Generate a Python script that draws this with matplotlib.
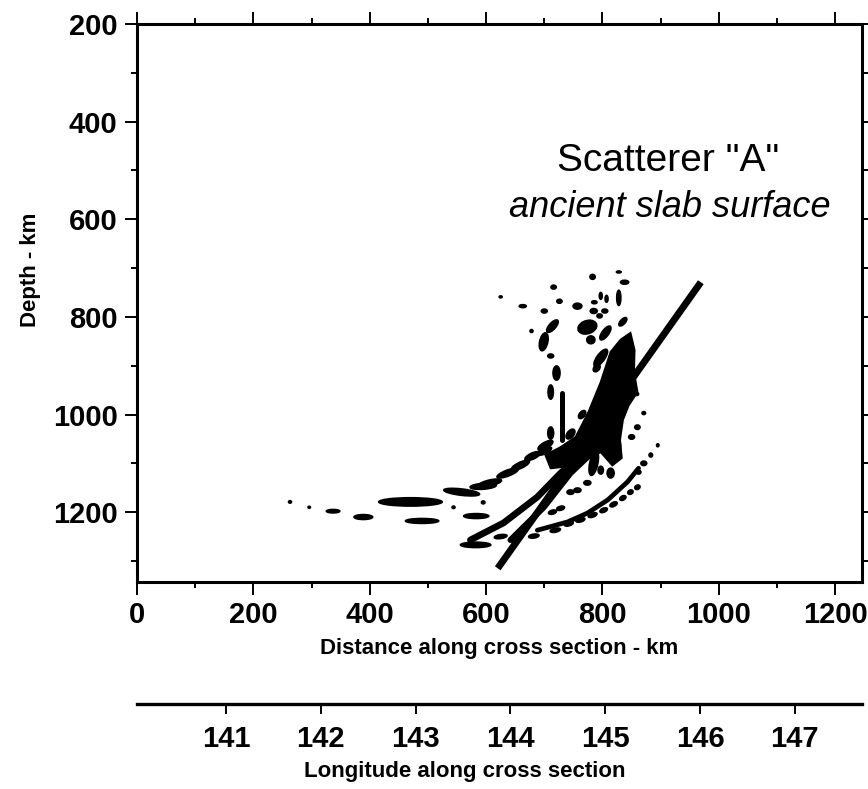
import numpy as np
import matplotlib
matplotlib.use("Agg")
import matplotlib.pyplot as plt
from matplotlib.patches import Ellipse, Polygon

plt.rcParams['font.family'] = ['Liberation Sans', 'DejaVu Sans']

# Slab surface line (distance km, depth km)
slab_x = [620, 969]
slab_z = [1315, 729]

# Scatterer image: dense core of the migrated energy
core_x = [702, 728, 754, 776, 797, 814, 831, 848, 855, 854, 860, 845, 835, 830, 833, 817, 797, 771, 742, 711]
core_z = [1083, 1067, 1046, 995, 934, 872, 847, 833, 868, 913, 954, 981, 1011, 1052, 1089, 1104, 1077, 1093, 1106, 1110]

# Curved bands of energy (distance km, depth km)
band1_x = [573, 630, 688, 728, 768]
band1_z = [1257, 1222, 1169, 1120, 1079]
band2_x = [642, 699, 745, 792]
band2_z = [1257, 1190, 1120, 1067]
arc_x = [688, 740, 774, 809, 843, 862]
arc_z = [1237, 1220, 1202, 1175, 1138, 1110]
stick_x = [731, 731]
stick_z = [956, 1052]

# Isolated blobs: centre x, centre depth, long size, short size (km), tilt on page (deg)
blob_x = [783, 828, 838, 716, 625, 663, 726, 700, 757, 797, 807, 828, 786, 785, 804, 795,
          714, 678, 699, 711, 774, 780, 805, 835, 797, 721, 711, 711, 826, 802, 785, 814,
          860, 850, 871, 859, 895, 883, 871, 862,
          682, 719, 742, 762, 783, 802, 819, 835, 848, 860,
          745, 757, 728, 714, 774, 797, 625,
          263, 296, 337, 389, 470, 490, 544, 558, 595, 583, 582, 595,
          607, 637, 659, 680, 702,
          745, 765, 790, 700, 752]
blob_z = [718, 708, 729, 739, 759, 778, 768, 788, 778, 757, 763, 761, 770, 788, 788, 798,
          819, 829, 851, 880, 821, 847, 833, 810, 884, 915, 954, 1038, 1065, 1046, 1100, 1120,
          1026, 1046, 997, 958, 1063, 1083, 1100, 1118,
          1249, 1237, 1224, 1216, 1206, 1196, 1184, 1171, 1159, 1149,
          1159, 1155, 1192, 1200, 1140, 1114, 1250,
          1179, 1190, 1198, 1210, 1179, 1218, 1190, 1159, 1147, 1208, 1267, 1180,
          1140, 1120, 1104, 1085, 1063,
          1040, 1000, 905, 1075, 1090]
blob_w = [9, 8, 14, 9, 5, 12, 9, 10, 15, 14, 14, 31, 9, 12, 10, 9,
          30, 5, 37, 10, 34, 14, 32, 20, 40, 29, 29, 25, 35, 40, 50, 20,
          9, 10, 6, 6, 6, 8, 10, 8,
          18, 18, 16, 16, 16, 14, 14, 12, 10, 10,
          12, 12, 14, 14, 12, 16, 22,
          5, 4, 23, 32, 109, 57, 5, 62, 45, 43, 52, 6,
          40, 40, 35, 30, 30,
          22, 18, 16, 28, 20]
blob_h = [10, 4, 8, 8, 4, 6, 8, 8, 12, 5, 5, 7, 6, 10, 8, 8,
          12, 6, 14, 8, 26, 16, 12, 9, 14, 12, 9, 10, 10, 12, 14, 12,
          9, 9, 6, 6, 4, 6, 9, 8,
          8, 8, 8, 8, 8, 8, 8, 8, 8, 8,
          9, 9, 8, 8, 9, 9, 8,
          5, 4, 7, 10, 17, 10, 5, 13, 12, 10, 11, 6,
          12, 12, 12, 12, 12,
          12, 10, 10, 11, 10]
blob_tilt = [0, 0, 0, 0, 0, 0, 0, 0, 0, 90, 90, 90, 0, 0, 0, 0,
             55, 0, 80, 0, 30, 0, 60, 55, 60, 90, 90, 90, 90, 90, 80, 90,
             0, 0, 0, 0, 90, 90, 0, 0,
             10, 15, 20, 20, 25, 30, 35, 40, 45, 45,
             0, 0, 20, 20, 0, 90, 10,
             0, 0, 0, 0, 0, 0, 0, -8, 5, 0, 0, 0,
             15, 25, 30, 30, 35,
             60, 60, 60, 30, 40]

# Axis ticks
dist_ticks = [0, 200, 400, 600, 800, 1000, 1200]
depth_ticks = [200, 400, 600, 800, 1000, 1200]
lon_ticks = [141, 142, 143, 144, 145, 146, 147]

fig = plt.figure(figsize=(8.68, 7.89), dpi=100)
ax = fig.add_axes([0.1578, 0.2624, 0.8353, 0.7072])

ax.add_patch(Polygon(np.column_stack([core_x, core_z]), closed=True, fc='black', ec='black', lw=1.5))
for bx, bz, lw in [(band1_x, band1_z, 4.8), (band2_x, band2_z, 4.4), (arc_x, arc_z, 3.4), (stick_x, stick_z, 3.6)]:
    ax.plot(bx, bz, color='black', lw=lw, solid_capstyle='round', solid_joinstyle='round')
for x, z, w, h, t in zip(blob_x, blob_z, blob_w, blob_h, blob_tilt):
    ax.add_patch(Ellipse((x, z), w, h, angle=-t, fc='black', ec='black', lw=1.2))
ax.plot(slab_x, slab_z, color='black', lw=5.0, solid_capstyle='butt')

ax.text(913, 481, 'Scatterer "A"', fontsize=28, ha='center', va='center')
ax.text(916, 576, 'ancient slab surface', fontsize=26, style='italic', ha='center', va='center')

ax.set_xlim(0, 1246)
ax.set_ylim(1343, 200)
ax.set_xticks(dist_ticks)
ax.set_xticks(np.arange(100, 1246, 200), minor=True)
ax.set_yticks(depth_ticks)
ax.set_yticks(np.arange(300, 1343, 200), minor=True)
ax.tick_params(which='both', direction='out', top=True, right=True, width=1.4)
ax.tick_params(which='major', length=9, labelsize=21, pad=5)
ax.tick_params(which='minor', length=4.5)
for lab in ax.get_xticklabels() + ax.get_yticklabels():
    lab.set_fontweight('bold')
for s in ax.spines.values():
    s.set_linewidth(2.2)
ax.set_xlabel('Distance along cross section - km', fontsize=16, fontweight='bold', labelpad=6)
ax.set_ylabel('Depth - km', fontsize=16, fontweight='bold')
ax.yaxis.set_label_coords(-0.133, 0.56)

# Longitude scale below the plot
ax2 = fig.add_axes([0.1578, 0.1077, 0.8353, 0.01])
ax2.patch.set_visible(False)
for side in ['top', 'left', 'right']:
    ax2.spines[side].set_visible(False)
ax2.spines['bottom'].set_linewidth(2.4)
ax2.set_yticks([])
ax2.set_xlim(140.06, 147.71)
ax2.set_xticks(lon_ticks)
ax2.tick_params(direction='out', length=7, width=1.4, labelsize=21, pad=8)
for lab in ax2.get_xticklabels():
    lab.set_fontweight('bold')
fig.text(0.536, 0.022, 'Longitude along cross section', fontsize=16, fontweight='bold',
         ha='center', va='center')

fig.savefig('out.png', dpi=100)
